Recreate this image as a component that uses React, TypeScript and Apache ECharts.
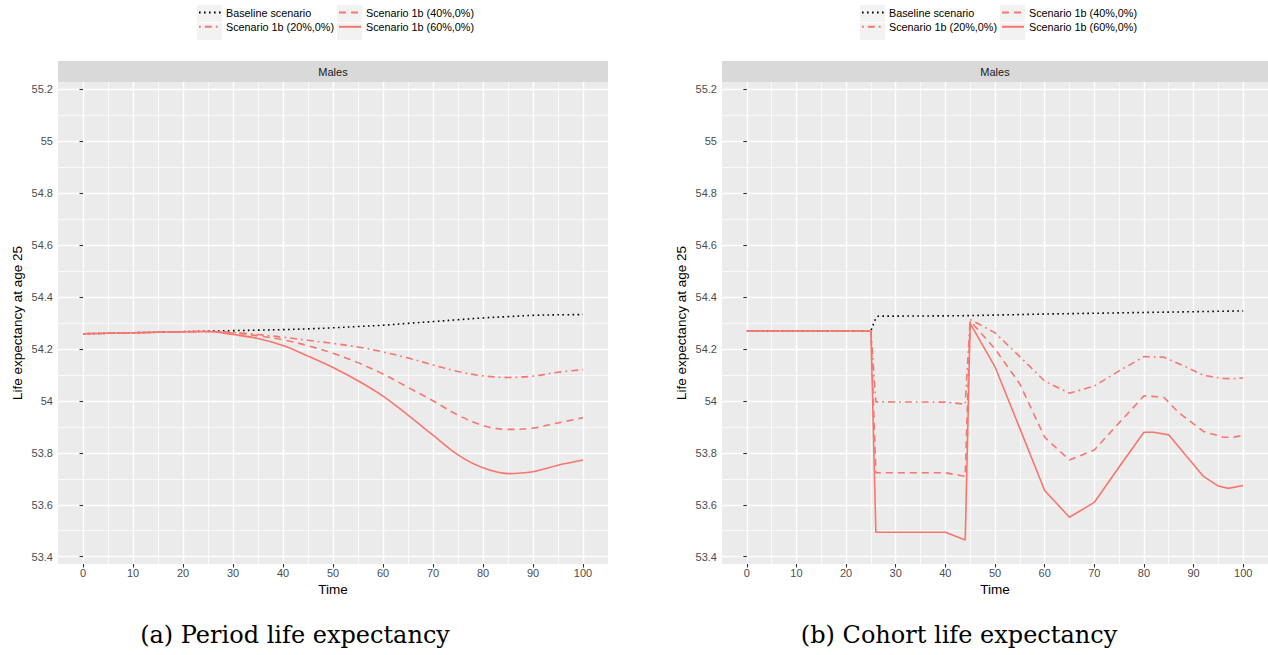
import React, { useEffect, useRef } from "react";
import * as echarts from "echarts";

const FONT = "Liberation Sans, Arial, Helvetica, sans-serif";
const RED = "#F8766D";

const SERIES_NAMES = [
  "Baseline scenario",
  "Scenario 1b (20%,0%)",
  "Scenario 1b (40%,0%)",
  "Scenario 1b (60%,0%)",
];

const X_TICKS = [0, 10, 20, 30, 40, 50, 60, 70, 80, 90, 100];
const X_MINOR = [5, 15, 25, 35, 45, 55, 65, 75, 85, 95];
const Y_TICKS = [53.4, 53.6, 53.8, 54, 54.2, 54.4, 54.6, 54.8, 55, 55.2];
const Y_MINOR = [53.5, 53.7, 53.9, 54.1, 54.3, 54.5, 54.7, 54.9, 55.1];

// (a) Period life expectancy
const periodTime = [0, 5, 10, 15, 20, 25, 30, 35, 40, 45, 50, 55, 60, 65, 70, 75, 80, 85, 90, 95, 100];
const periodBaseline = [54.258, 54.260, 54.262, 54.264, 54.266, 54.268, 54.270, 54.272, 54.274, 54.277, 54.281, 54.286, 54.291, 54.298, 54.305, 54.312, 54.319, 54.324, 54.329, 54.331, 54.332];
const period20 = [54.258, 54.260, 54.262, 54.264, 54.266, 54.267, 54.263, 54.255, 54.245, 54.233, 54.221, 54.207, 54.188, 54.165, 54.138, 54.113, 54.096, 54.090, 54.095, 54.110, 54.120];
const period40 = [54.258, 54.260, 54.262, 54.264, 54.266, 54.267, 54.261, 54.250, 54.235, 54.212, 54.183, 54.147, 54.103, 54.052, 54.000, 53.945, 53.905, 53.890, 53.895, 53.915, 53.935];
const period60 = [54.258, 54.260, 54.262, 54.264, 54.266, 54.267, 54.255, 54.240, 54.213, 54.172, 54.128, 54.077, 54.018, 53.945, 53.868, 53.792, 53.742, 53.720, 53.727, 53.752, 53.772];

// (b) Cohort life expectancy: [time, value]
const cohortBaseline = [
  [0, 54.269], [25, 54.269], [25.5, 54.295], [26, 54.318], [26.5, 54.326], [30, 54.326], [40, 54.327],
  [45, 54.328], [50, 54.330], [60, 54.334], [70, 54.337], [80, 54.340], [90, 54.343], [100, 54.346],
];
const cohort20 = [
  [0, 54.269], [25, 54.269], [26, 53.996], [40, 53.995], [44, 53.987], [45, 54.313], [50, 54.262],
  [55, 54.170], [60, 54.076], [65, 54.029], [70, 54.057], [75, 54.115], [80, 54.170], [84, 54.168],
  [88, 54.135], [92, 54.098], [96, 54.086], [98, 54.085], [100, 54.088],
];
const cohort40 = [
  [0, 54.269], [25, 54.269], [26, 53.723], [40, 53.723], [44, 53.709], [45, 54.308], [50, 54.200],
  [55, 54.065], [60, 53.860], [65, 53.772], [70, 53.811], [75, 53.915], [80, 54.019], [84, 54.014],
  [87, 53.955], [92, 53.882], [96, 53.860], [98, 53.860], [100, 53.867],
];
const cohort60 = [
  [0, 54.269], [25, 54.269], [26, 53.494], [40, 53.494], [44, 53.464], [45, 54.298], [50, 54.131],
  [55, 53.894], [60, 53.655], [65, 53.552], [70, 53.609], [75, 53.745], [80, 53.879], [82, 53.879],
  [85, 53.869], [88, 53.800], [92, 53.709], [95, 53.672], [97, 53.663], [100, 53.674],
];

const LINE_STYLES: any[] = [
  { color: "#000000", type: [1.6, 3.4] },
  { color: RED, type: [1.8, 4, 7, 4] },
  { color: RED, type: [7, 5] },
  { color: RED, type: "solid" },
];

const Y_MIN = 53.372;
const Y_MAX = 55.227;

function makeAxes(gridIndex: number) {
  const x = [
    {
      type: "value", gridIndex, min: -5, max: 105,
      axisLine: { show: false },
      axisTick: { show: true, customValues: X_TICKS, length: 3.5, lineStyle: { color: "#333333", width: 1.1 } },
      axisLabel: { customValues: X_TICKS, margin: 3, color: "#4D4D4D", fontSize: 11, fontFamily: FONT },
      splitLine: { show: true, lineStyle: { color: "#FFFFFF", width: 1.4 } },
      name: "Time", nameLocation: "middle", nameGap: 15,
      nameTextStyle: { color: "#000000", fontSize: 13.5, fontFamily: FONT },
    },
    {
      type: "value", gridIndex, min: -5, max: 105,
      axisLine: { show: false },
      axisTick: { show: false, customValues: X_MINOR },
      axisLabel: { show: false, customValues: X_MINOR },
      splitLine: { show: true, lineStyle: { color: "#FFFFFF", width: 0.7 } },
    },
  ];
  const y = [
    {
      type: "value", gridIndex, min: Y_MIN, max: Y_MAX,
      axisLine: { show: false },
      axisTick: { show: true, customValues: Y_TICKS, length: 3.5, lineStyle: { color: "#333333", width: 1.1 } },
      axisLabel: {
        customValues: Y_TICKS, margin: 5, color: "#4D4D4D", fontSize: 11, fontFamily: FONT,
        formatter: (v: number) => `${parseFloat(v.toFixed(2))}`,
      },
      splitLine: { show: true, lineStyle: { color: "#FFFFFF", width: 1.4 } },
      name: "Life expectancy at age 25", nameLocation: "middle", nameGap: 34,
      nameTextStyle: { color: "#000000", fontSize: 13.5, fontFamily: FONT },
    },
    {
      type: "value", gridIndex, min: Y_MIN, max: Y_MAX,
      axisLine: { show: false },
      axisTick: { show: false, customValues: Y_MINOR },
      axisLabel: { show: false, customValues: Y_MINOR },
      splitLine: { show: true, lineStyle: { color: "#FFFFFF", width: 0.7 } },
    },
  ];
  return { x, y };
}

function legendFor(names: string[], left: number) {
  return {
    data: names, orient: "vertical", left, top: 7, padding: 0,
    itemWidth: 22, itemHeight: 14, itemGap: 3, selectedMode: false, z: 5,
    itemStyle: { opacity: 0 },
    textStyle: { color: "#000000", fontSize: 10.8, fontFamily: FONT },
  };
}

function keyBoxes(x: number) {
  return [5, 23].map((y) => ({
    type: "rect", z: 0, shape: { x, y, width: 25, height: 17 }, style: { fill: "#F2F2F2" },
  }));
}

export default function App() {
  const ref = useRef<HTMLDivElement>(null);
  useEffect(() => {
    document.body.style.margin = "0";
    if (!ref.current) return;
    const chart = echarts.init(ref.current, undefined, { renderer: "svg" });
    const a = makeAxes(0);
    const b = makeAxes(1);
    const periodSets = [periodBaseline, period20, period40, period60];
    const cohortSets = [cohortBaseline, cohort20, cohort40, cohort60];
    const series: any[] = [];
    periodSets.forEach((vals, i) => {
      series.push({
        type: "line", name: SERIES_NAMES[i], xAxisIndex: 0, yAxisIndex: 0,
        data: periodTime.map((t, k) => [t, vals[k]]),
        showSymbol: false, symbol: "none", smooth: 0.35,
        lineStyle: { ...LINE_STYLES[i], width: 1.6 }, itemStyle: { color: LINE_STYLES[i].color },
        z: 2 + i,
      });
    });
    cohortSets.forEach((vals, i) => {
      series.push({
        type: "line", name: SERIES_NAMES[i], xAxisIndex: 2, yAxisIndex: 2,
        data: vals, showSymbol: false, symbol: "none",
        lineStyle: { ...LINE_STYLES[i], width: 1.6 }, itemStyle: { color: LINE_STYLES[i].color },
        z: 2 + i,
      });
    });
    const capFont = `24px "DejaVu Serif", serif`;
    const option: any = {
      animation: false,
      backgroundColor: "#FFFFFF",
      grid: [
        { left: 58, top: 82, width: 550, height: 482, show: true, backgroundColor: "#EBEBEB", borderWidth: 0 },
        { left: 722, top: 82, width: 546, height: 482, show: true, backgroundColor: "#EBEBEB", borderWidth: 0 },
      ],
      xAxis: [...a.x, ...b.x.map((ax) => ({ ...ax, gridIndex: 1 }))],
      yAxis: [...a.y, ...b.y.map((ax) => ({ ...ax, gridIndex: 1 }))],
      legend: [
        legendFor([SERIES_NAMES[0], SERIES_NAMES[1]], 198),
        legendFor([SERIES_NAMES[2], SERIES_NAMES[3]], 338),
        legendFor([SERIES_NAMES[0], SERIES_NAMES[1]], 861),
        legendFor([SERIES_NAMES[2], SERIES_NAMES[3]], 1001),
      ],
      graphic: [
        ...keyBoxes(197), ...keyBoxes(337), ...keyBoxes(860), ...keyBoxes(1000),
        { type: "rect", z: 0, shape: { x: 58, y: 61, width: 550, height: 21 }, style: { fill: "#D9D9D9" } },
        { type: "rect", z: 0, shape: { x: 722, y: 61, width: 546, height: 21 }, style: { fill: "#D9D9D9" } },
        {
          type: "text", z: 1, x: 333, y: 71.5,
          style: { text: "Males", fill: "#1A1A1A", font: `11px ${FONT}`, align: "center", verticalAlign: "middle" },
        },
        {
          type: "text", z: 1, x: 995, y: 71.5,
          style: { text: "Males", fill: "#1A1A1A", font: `11px ${FONT}`, align: "center", verticalAlign: "middle" },
        },
        {
          type: "text", z: 1, x: 295, y: 635,
          style: { text: "(a) Period life expectancy", fill: "#000000", font: capFont, align: "center", verticalAlign: "middle" },
        },
        {
          type: "text", z: 1, x: 959, y: 635,
          style: { text: "(b) Cohort life expectancy", fill: "#000000", font: capFont, align: "center", verticalAlign: "middle" },
        },
      ],
      series,
    };
    chart.setOption(option);
    return () => chart.dispose();
  }, []);
  return <div ref={ref} style={{ width: 1268, height: 655 }} />;
}
